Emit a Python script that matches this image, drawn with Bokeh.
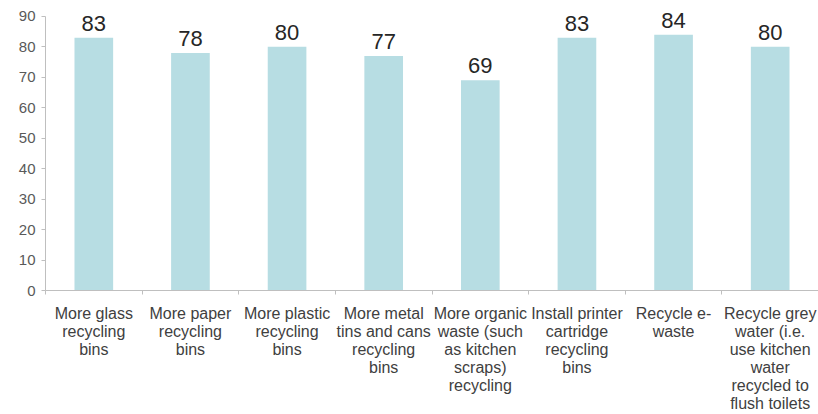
from bokeh.plotting import figure
from bokeh.models import Range1d, LinearAxis, FixedTicker, ColumnDataSource
from bokeh.core.properties import value
from bokeh.embed import file_html
from bokeh.resources import INLINE

categories = [
    "More glass\nrecycling\nbins",
    "More paper\nrecycling\nbins",
    "More plastic\nrecycling\nbins",
    "More metal\ntins and cans\nrecycling\nbins",
    "More organic\nwaste (such\nas kitchen\nscraps)\nrecycling",
    "Install printer\ncartridge\nrecycling\nbins",
    "Recycle e-\nwaste",
    "Recycle grey\nwater (i.e.\nuse kitchen\nwater\nrecycled to\nflush toilets",
]
values = [83, 78, 80, 77, 69, 83, 84, 80]
y_ticks = [0, 10, 20, 30, 40, 50, 60, 70, 80, 90]

FONT = "Liberation Sans"
BAR = "#b7dde3"
AXIS = "#bfbfbf"

n = len(categories)
centers = [i + 0.5 for i in range(n)]
edges = list(range(n + 1))
src = ColumnDataSource(dict(x=centers, val=values, lab=[str(v) for v in values]))

p = figure(width=818, height=414, output_backend="svg", toolbar_location=None,
           x_range=Range1d(0, n), y_range=Range1d(0, 93.9),
           x_axis_location=None, min_border_left=45, min_border_right=0,
           min_border_top=4, min_border_bottom=123)
p.outline_line_color = None
p.xgrid.visible = False
p.ygrid.visible = False
p.background_fill_color = "white"
p.border_fill_color = "white"

p.vbar(x="x", top="val", width=0.4, source=src, fill_color=BAR, line_color=None)
p.text(x="x", y="val", text="lab", source=src, text_align="center", text_baseline="bottom",
       y_offset=-7, text_font=value(FONT), text_font_size="22px", text_color="#262626")

# y axis
ya = p.yaxis[0]
ya.ticker = FixedTicker(ticks=y_ticks)
ya.bounds = (0, 90)
ya.axis_line_color = AXIS
ya.major_tick_line_color = AXIS
ya.major_tick_out = 4
ya.major_tick_in = 0
ya.minor_tick_line_color = None
ya.major_label_standoff = 6
ya.major_label_text_font = FONT
ya.major_label_text_font_size = "15px"
ya.major_label_text_color = "#595959"

# category axis: labels at centres, ticks at boundaries
ca = LinearAxis(ticker=FixedTicker(ticks=centers, minor_ticks=edges))
ca.major_label_overrides = {c: lab for c, lab in zip(centers, categories)}
ca.axis_line_color = AXIS
ca.major_tick_line_color = None
ca.major_tick_out = 0
ca.major_tick_in = 0
ca.minor_tick_line_color = AXIS
ca.minor_tick_out = 4
ca.minor_tick_in = 0
ca.major_label_standoff = 10
ca.major_label_text_font = FONT
ca.major_label_text_font_size = "16px"
ca.major_label_text_color = "#404040"
ca.major_label_text_line_height = 1.06
p.add_layout(ca, "below")

open("out.html", "w").write(file_html(p, INLINE))
